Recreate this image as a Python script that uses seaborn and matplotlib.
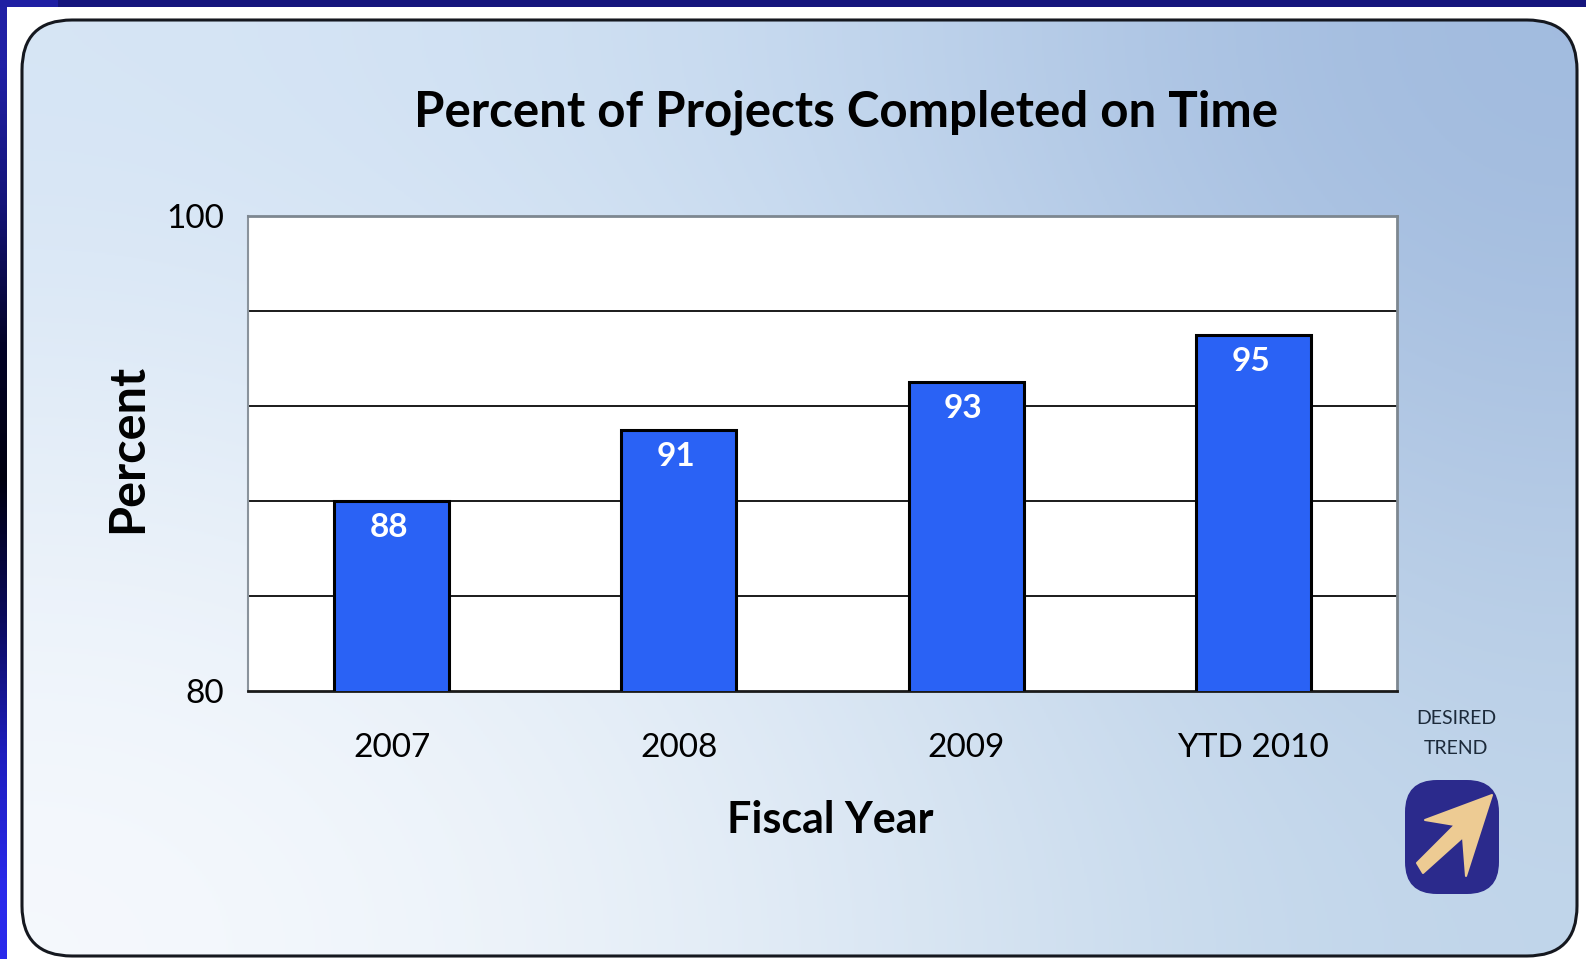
import numpy as np
import pandas as pd
import matplotlib
matplotlib.use('Agg')
import matplotlib.pyplot as plt
from matplotlib.patches import FancyBboxPatch, Polygon
import seaborn as sns

# values
years = ['2007', '2008', '2009', 'YTD 2010']
percent = [88, 91, 93, 95]
y_ticks = [80, 100]
grid_ticks = [84, 88, 92, 96]

W, H = 1586, 959

sns.set_theme(style='white')
plt.rcParams['font.family'] = ['Lato', 'DejaVu Sans']

fig = plt.figure(figsize=(W / 100, H / 100), dpi=100, facecolor='white')

# background layer in pixel coordinates, y going down
bg = fig.add_axes([0, 0, 1, 1])
bg.set_xlim(0, W)
bg.set_ylim(H, 0)
bg.axis('off')

# dark blue slide frame, top and left
left_band = np.array([[32, 32, 165], [20, 20, 120], [3, 3, 40], [0, 0, 15],
                      [10, 10, 90], [30, 30, 190], [42, 42, 235]]) / 255
bg.imshow(left_band[:, None, :], extent=[0, 7, H, 0], aspect='auto', interpolation='bilinear', zorder=1)
bg.fill_between([0, W], 0, 7, color='#15157d', lw=0, zorder=1)
bg.fill_between([0, 58], 0, 7, color='#1f1fa3', lw=0, zorder=2)

# rounded panel with gradient
x0, y0, x1, y1, r = 22, 20, 1577, 956, 50
shades = np.array([[[214, 229, 245], [200, 219, 240], [160, 186, 222]],
                   [[232, 240, 249], [216, 230, 244], [178, 200, 228]],
                   [[246, 249, 253], [226, 236, 246], [192, 213, 234]]]) / 255
panel = FancyBboxPatch((x0 + r, y0 + r), x1 - x0 - 2 * r, y1 - y0 - 2 * r,
                       boxstyle=f'round,pad={r},rounding_size={r}',
                       fc='none', ec='#15181f', lw=2.2, zorder=4)
bg.add_patch(panel)
grad = bg.imshow(shades, extent=[x0, x1, y1, y0], aspect='auto', interpolation='bicubic', zorder=3)
grad.set_clip_path(panel)
bg.set_xlim(0, W)
bg.set_ylim(H, 0)

# desired trend badge
badge = FancyBboxPatch((1405 + 32, 780 + 32), 94 - 64, 114 - 64,
                       boxstyle='round,pad=32,rounding_size=32',
                       fc='#2b2a8c', ec='none', zorder=5)
bg.add_patch(badge)
bg.add_patch(Polygon([[1492, 795], [1466, 876], [1463, 837], [1423, 873], [1417, 863],
                      [1455, 825], [1425, 820]], closed=True, fc='#edcb93', ec='#edcb93',
                     lw=1.5, joinstyle='round', zorder=6))
bg.text(1456, 719, 'DESIRED', ha='center', va='center', fontsize=14, color='#1c2a3a', zorder=6)
bg.text(1456, 749, 'TREND', ha='center', va='center', fontsize=14, color='#1c2a3a', zorder=6)

# chart
df = pd.DataFrame({'year': years, 'percent': percent})
ax = fig.add_axes([248 / W, 1 - 691 / H, (1397 - 248) / W, (691 - 216) / H], facecolor='white')
sns.barplot(data=df, x='year', y='percent', color='#2a62f5', saturation=1, width=0.4,
            edgecolor='black', linewidth=2.2, ax=ax, zorder=3)
ax.set_ylim(80, 100)
ax.set_xlim(-0.5, 3.5)
ax.set_yticks(y_ticks)
ax.set_yticks(grid_ticks, minor=True)
ax.grid(False)
ax.grid(True, axis='y', which='minor', color='#1a1a1a', lw=1.4, zorder=1)
ax.set_axisbelow(True)
ax.tick_params(axis='both', which='both', length=0)
ax.tick_params(axis='y', labelsize=24, pad=17, labelcolor='black')
ax.tick_params(axis='x', labelsize=24, pad=30, labelcolor='black')

for s in ['top', 'right']:
    ax.spines[s].set_color('#7d8790')
    ax.spines[s].set_linewidth(2)
ax.spines['left'].set_color('#8a939c')
ax.spines['left'].set_linewidth(1.5)
ax.spines['bottom'].set_color('#1a1a1a')
ax.spines['bottom'].set_linewidth(2)

ax.set_xlabel('Fiscal Year', fontsize=31, fontweight='bold', labelpad=27, color='black')
ax.xaxis.label.set_x(0.5065)
ax.set_ylabel('Percent', fontsize=35, fontweight='bold', labelpad=12, color='black')
ax.yaxis.label.set_y(0.51)

for bar, val in zip(ax.patches, percent):
    ax.annotate(str(val), (bar.get_x() + bar.get_width() / 2, val), xytext=(-2, -19),
                textcoords='offset points', ha='center', va='center',
                fontsize=24, color='white', fontweight='bold')

fig.text(846 / W, 1 - 112 / H, 'Percent of Projects Completed on Time', ha='center', va='center',
         fontsize=35.5, fontweight='bold', color='black')

fig.savefig('out.png', dpi=100, facecolor='white')
